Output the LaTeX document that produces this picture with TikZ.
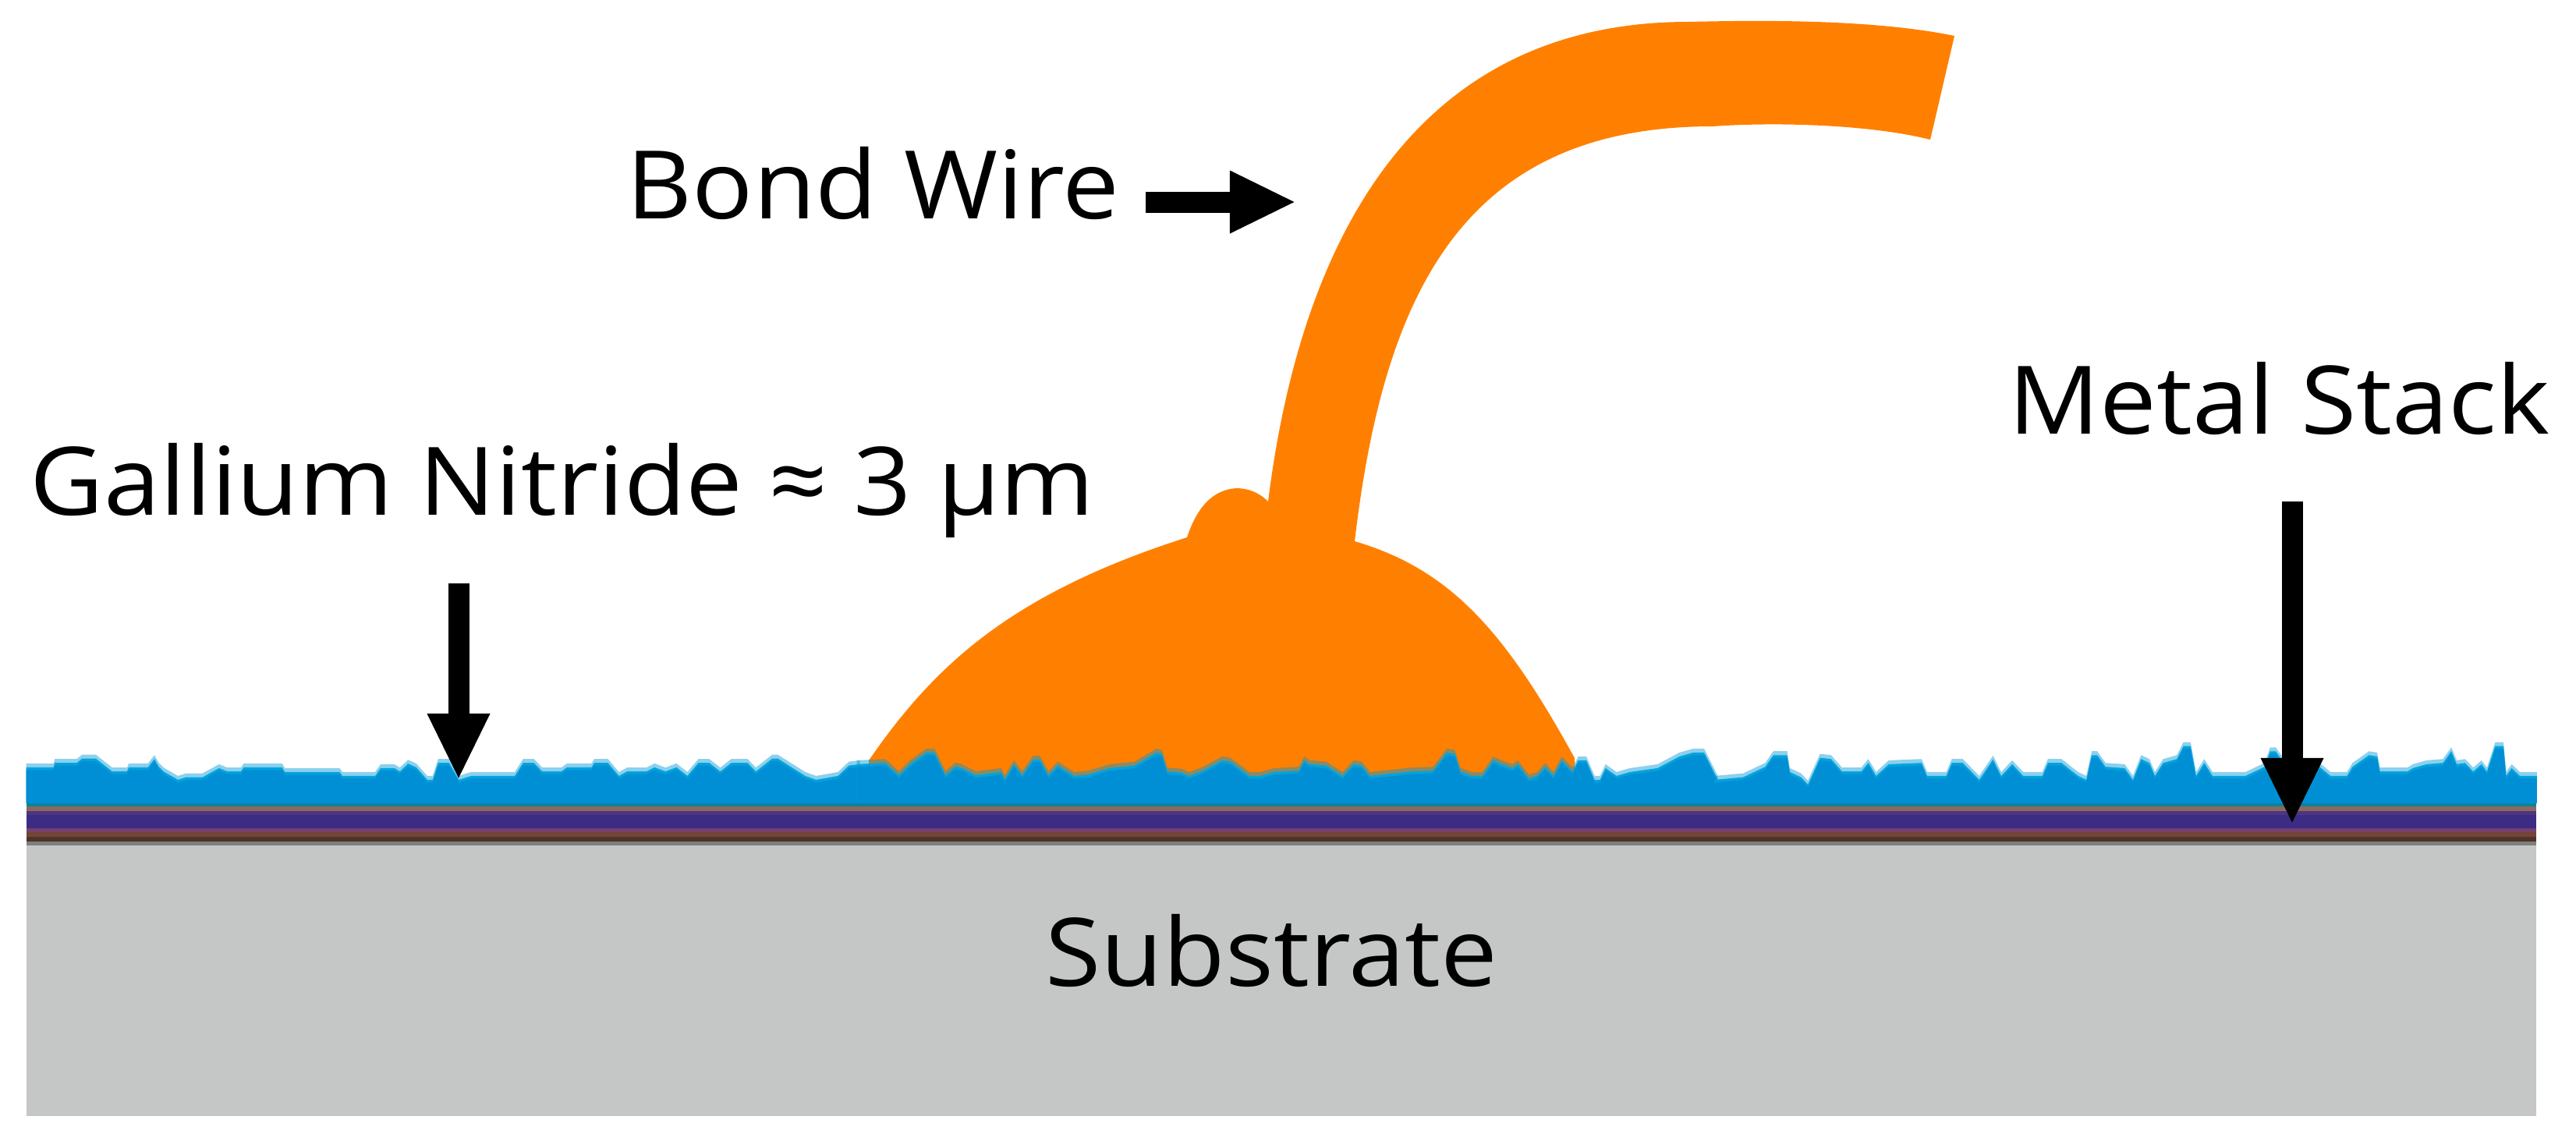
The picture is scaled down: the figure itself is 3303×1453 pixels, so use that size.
\documentclass[tikz,border=0pt]{standalone}
\usepackage{fontspec}
\setmainfont[FakeStretch=1.07]{Open Sans}
\usetikzlibrary{arrows.meta}
\definecolor{wirecol}{HTML}{FF8000}
\definecolor{gancol}{HTML}{008FD5}
\definecolor{ganbright}{HTML}{00A3DC}
\definecolor{halocol}{HTML}{0098DA}
\definecolor{subcol}{HTML}{C5C7C6}
\definecolor{layA}{HTML}{0A8499}
\definecolor{layB}{HTML}{8C6860}
\definecolor{layC}{HTML}{4E3580}
\definecolor{layD}{HTML}{3C2C84}
\definecolor{layE}{HTML}{74406E}
\definecolor{layF}{HTML}{744438}
\definecolor{layG}{HTML}{4C3428}
\definecolor{layH}{HTML}{7E7E7C}
\tikzset{
  lbl/.style={anchor=base west,inner sep=0pt,font=\fontsize{34.5}{40}\selectfont,text=black},
  bigarrow/.style={line width=.27cm,black,-{Triangle[width=.74cm,length=.85cm]}},
  zoomA/.style={shift={(0,900)},x=0.007015cm,y=-0.0033333cm},
  zoomB/.style={shift={(1100,900)},x=0.007015cm,y=-0.0033333cm},
  zoomC/.style={shift={(2200,900)},x=0.007034cm,y=-0.0033333cm},
  halo/.style={halocol,opacity=.45},
}
\newcommand\profA{-- (48,252) -- (98,252) -- (100,235) -- (140,235) -- (150,218) -- (175,218) -- (185,235) -- (205,268) -- (232,268) -- (235,252) -- (270,252) -- (282,220) -- (290,250) -- (300,270) -- (325,300) -- (340,290) -- (370,290) -- (400,255) -- (415,268) -- (440,268) -- (445,252) -- (515,252) -- (520,270) -- (620,270) -- (625,285) -- (685,285) -- (695,255) -- (720,255) -- (730,268) -- (745,238) -- (760,252) -- (780,300) -- (790,300) -- (800,235) -- (820,235) -- (838,300) -- (860,285) -- (940,285) -- (955,235) -- (975,235) -- (990,268) -- (1025,268) -- (1035,252) -- (1080,252) -- (1085,235) -- (1110,235) -- (1130,285) -- (1145,268) -- (1180,268) -- (1195,252) -- (1215,268) -- (1235,252) -- (1255,285) -- (1275,235) -- (1295,235) -- (1315,268) -- (1335,235) -- (1365,235) -- (1380,268) -- (1410,218) -- (1420,218) -- (1470,285) -- (1490,300) -- (1530,285) -- (1550,245) -- (1570,240)}
\newcommand\profB{-- (-2,240) -- (50,235) -- (75,282) -- (95,240) -- (125,195) -- (140,195) -- (160,282) -- (178,248) -- (190,255) -- (215,282) -- (262,270) -- (268,298) -- (285,240) -- (300,282) -- (320,222) -- (332,222) -- (348,282) -- (365,245) -- (395,285) -- (420,280) -- (460,255) -- (505,245) -- (545,195) -- (555,200) -- (565,268) -- (590,272) -- (605,285) -- (630,265) -- (665,225) -- (680,230) -- (715,285) -- (735,285) -- (760,270) -- (805,265) -- (815,225) -- (825,240) -- (855,245) -- (885,285) -- (905,240) -- (920,245) -- (935,285) -- (1010,268) -- (1050,265) -- (1075,195) -- (1090,200) -- (1100,268) -- (1120,285) -- (1140,285) -- (1160,225) -- (1175,240) -- (1195,255) -- (1205,240) -- (1225,295) -- (1240,285) -- (1255,250) -- (1270,285) -- (1285,225) -- (1305,268) -- (1315,225) -- (1330,225) -- (1345,300) -- (1355,300) -- (1365,255) -- (1385,285) -- (1410,270) -- (1460,255) -- (1500,210) -- (1525,195) -- (1545,195) -- (1570,300)}
\newcommand\profC{-- (-2,300) -- (50,290) -- (90,250) -- (105,205) -- (130,205) -- (135,270) -- (155,290) -- (168,318) -- (190,215) -- (210,220) -- (230,268) -- (265,268) -- (278,235) -- (292,285) -- (315,240) -- (375,235) -- (385,285) -- (420,285) -- (430,235) -- (450,235) -- (480,300) -- (505,222) -- (520,285) -- (540,240) -- (560,285) -- (595,285) -- (605,235) -- (630,235) -- (660,285) -- (675,300) -- (685,205) -- (695,205) -- (710,250) -- (745,255) -- (760,300) -- (775,220) -- (790,235) -- (800,285) -- (815,235) -- (840,220) -- (852,170) -- (865,170) -- (875,285) -- (890,235) -- (905,285) -- (965,285) -- (1000,250) -- (1010,190) -- (1020,190) -- (1040,250) -- (1100,250) -- (1120,285) -- (1150,285) -- (1160,250) -- (1190,205) -- (1205,210) -- (1210,268) -- (1260,268) -- (1270,255) -- (1295,240) -- (1325,235) -- (1340,190) -- (1350,240) -- (1365,235) -- (1380,268) -- (1395,240) -- (1405,268) -- (1420,170) -- (1435,170) -- (1440,285) -- (1450,255) -- (1465,285) -- (1496,285)}
\begin{document}
\begin{tikzpicture}[x=0.01cm,y=-0.01cm]
\useasboundingbox (0,0) rectangle (3303,1453);
\fill[white] (0,0) rectangle (3303,1453);
% substrate and metal stack
\fill[subcol] (34,1084) rectangle (3252,1431);
\fill[layH] (34,1079) rectangle (3252,1084);
\fill[layG] (34,1073) rectangle (3252,1079);
\fill[layF] (34,1067) rectangle (3252,1073);
\fill[layE] (34,1062) rectangle (3252,1067);
\fill[layD] (34,1045) rectangle (3252,1062);
\fill[layC] (34,1040) rectangle (3252,1045);
\fill[layB] (34,1034) rectangle (3252,1040);
\fill[layA] (34,1029) rectangle (3252,1034);
% bond wire and ball
\fill[wirecol] (1114,975) .. controls (1200,850) and (1300,760) .. (1522,689)
  .. controls (1535,650) and (1555,628) .. (1585,626)
  .. controls (1605,626) and (1618,635) .. (1626,643)
  .. controls (1665,330) and (1800,28) .. (2165,28)
  .. controls (2250,26) and (2400,24) .. (2506,46)
  -- (2475,179)
  .. controls (2400,160) and (2280,156) .. (2196,162)
  .. controls (1880,162) and (1775,370) .. (1737,694)
  .. controls (1860,730) and (1930,810) .. (2019,972)
  -- (2019,1010) -- (1114,1010) -- cycle;
% gallium nitride surface
\begin{scope}[zoomA]
  \fill[halo,yshift=0.05cm] (48,390) \profA |- cycle;
  \fill[ganbright] (48,390) \profA |- cycle;
  \fill[gancol,yshift=-0.035cm] (48,380) \profA |- cycle;
\end{scope}
\begin{scope}[zoomB]
  \fill[halo,yshift=0.05cm] (-2,390) \profB |- cycle;
  \fill[ganbright] (-2,390) \profB |- cycle;
  \fill[gancol,yshift=-0.035cm] (-2,380) \profB |- cycle;
\end{scope}
\begin{scope}[zoomC]
  \fill[halo,yshift=0.05cm] (-2,390) \profC |- cycle;
  \fill[ganbright] (-2,390) \profC |- cycle;
  \fill[gancol,yshift=-0.035cm] (-2,380) \profC |- cycle;
\end{scope}
% labels
\node[lbl] (bond) at (803,280) {Bond Wire};
\node[lbl] (gan) at (38,660) {Gallium Nitride ≈ 3 µm};
\node[lbl] (metal) at (2575,556) {Metal Stack};
\node[lbl] (sub) at (1340,1264) {Substrate};
% arrows
\coordinate (bondS) at (1469,259);
\coordinate (bondE) at (1662,259);
\coordinate (ganS) at (588,748);
\coordinate (ganE) at (588,1000);
\coordinate (metalS) at (2939,643);
\coordinate (metalE) at (2939,1057);
\draw[bigarrow] (bondS) -- (bondE);
\draw[bigarrow] (ganS) -- (ganE);
\draw[bigarrow] (metalS) -- (metalE);
\end{tikzpicture}
\end{document}
